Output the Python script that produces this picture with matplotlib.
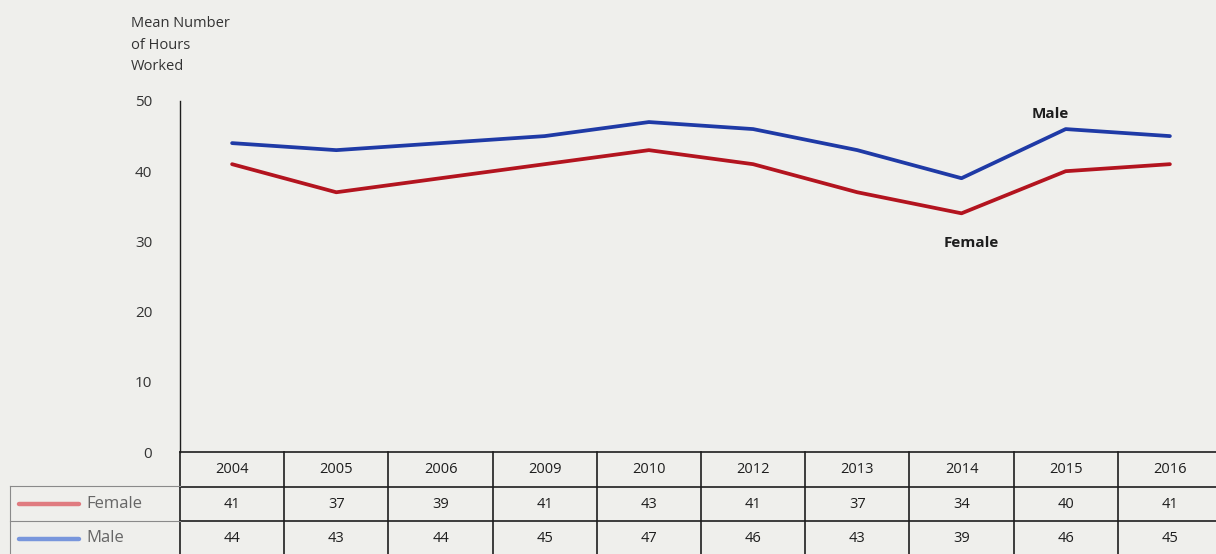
"""Mean number of hours worked by sex, line chart with a data table below."""

import matplotlib
matplotlib.use("Agg")
import matplotlib.pyplot as plt

# --- data ---
years = ["2004", "2005", "2006", "2009", "2010", "2012", "2013", "2014", "2015", "2016"]
female = [41, 37, 39, 41, 43, 41, 37, 34, 40, 41]
male = [44, 43, 44, 45, 47, 46, 43, 39, 46, 45]
y_ticks = [0, 10, 20, 30, 40, 50]
series_names = ["Female", "Male"]

# --- style ---
W, H = 1216, 554
BG = "#efefec"
RED = "#b3141f"
BLUE = "#1f3aa6"
RED_LIGHT = "#e07b80"
BLUE_LIGHT = "#7896dc"
INK = "#1e1e1e"

plt.rcParams["font.family"] = ["Open Sans", "DejaVu Sans"]


def px(x0, y0, x1, y1):
    """Pixel box (top-left origin) -> figure fraction rect."""
    return [x0 / W, 1 - y1 / H, (x1 - x0) / W, (y1 - y0) / H]


fig = plt.figure(figsize=(W / 100, H / 100), dpi=100, facecolor=BG)

col_l, col_r = 180, 1222
n = len(years)
xs = list(range(n))

# ===========================================================================
# line chart
# ===========================================================================
ax = fig.add_axes(px(col_l, 101, col_r, 452))
ax.set_facecolor("none")
ax.plot(xs, female, color=RED, lw=2.7, solid_capstyle="round")
ax.plot(xs, male, color=BLUE, lw=2.7, solid_capstyle="round")
ax.set_xlim(-0.5, n - 0.5)
ax.set_ylim(0, 50)
ax.set_xticks([])
ax.set_yticks(y_ticks)
ax.tick_params(axis="y", length=0, pad=20, labelsize=11, labelcolor="#333333")
for s in ["top", "right", "bottom"]:
    ax.spines[s].set_visible(False)
ax.spines["left"].set_color(INK)
ax.spines["left"].set_linewidth(1.0)

ax.text(7.85, 48.2, "Male", fontsize=11, fontweight="bold", color=INK,
        ha="center", va="center")
ax.text(7.09, 29.8, "Female", fontsize=11, fontweight="bold", color=INK,
        ha="center", va="center")

fig.text(131 / W, 1 - 16 / H, "Mean Number\nof Hours\nWorked", fontsize=10.5,
         color="#333333", ha="left", va="top", linespacing=1.6)

# ===========================================================================
# data table
# ===========================================================================
tax = fig.add_axes(px(col_l, 452, col_r, 556))
tax.set_facecolor("none")
tax.set_xlim(-0.5, n - 0.5)
tax.set_ylim(3, 0)
tax.axis("off")

for r in range(3):
    tax.plot([-0.5, n - 0.5], [r, r], color=INK, lw=1.2, clip_on=False)
for i in range(n + 1):
    tax.plot([i - 0.5, i - 0.5], [0, 3], color=INK, lw=1.2, clip_on=False)

for i, yr in enumerate(years):
    tax.text(i, 0.5, yr, ha="center", va="center", fontsize=10.5, color=INK)
    tax.text(i, 1.5, str(female[i]), ha="center", va="center", fontsize=10.5, color=INK)
    tax.text(i, 2.5, str(male[i]), ha="center", va="center", fontsize=10.5, color=INK)

# row labels with legend swatches
lax = fig.add_axes(px(10, 486, 180, 556))
lax.set_facecolor("none")
lax.set_xlim(0, 170)
lax.set_ylim(2, 0)
lax.axis("off")
for r in range(3):
    lax.plot([0, 170], [r, r], color="#8a8a8a", lw=0.8, clip_on=False)
lax.plot([0, 0], [0, 2], color="#8a8a8a", lw=0.8, clip_on=False)

for r, (name, c) in enumerate(zip(series_names, [RED_LIGHT, BLUE_LIGHT])):
    lax.plot([9, 69], [r + 0.5, r + 0.5], color=c, lw=3.2, solid_capstyle="round")
    lax.text(76, r + 0.5, name, ha="left", va="center", fontsize=12, color="#666666")

fig.savefig("out.png", dpi=100, facecolor=BG)
